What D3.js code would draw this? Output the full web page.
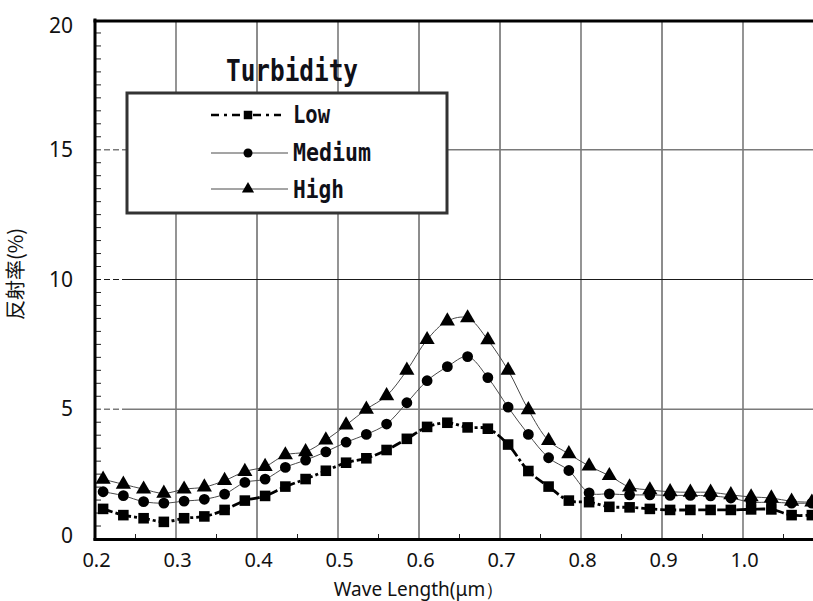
<!DOCTYPE html>
<html><head><meta charset="utf-8">
<script src="https://cdn.jsdelivr.net/npm/d3@7"></script>
<style>
html,body{margin:0;padding:0;background:#fff;}
svg{display:block;}
</style></head>
<body>
<svg id="chart" width="813" height="601"></svg>
<script>
const wavelengths = [0.210,0.235,0.260,0.285,0.310,0.335,0.360,0.385,0.410,0.435,0.460,0.485,
  0.510,0.535,0.560,0.585,0.610,0.635,0.660,0.685,0.710,0.735,0.760,0.785,
  0.810,0.835,0.860,0.885,0.910,0.935,0.960,0.985,1.010,1.035,1.060,1.085];
const lowValues = [1.16,0.92,0.80,0.66,0.80,0.87,1.12,1.48,1.66,2.02,2.31,2.63,
  2.94,3.11,3.43,3.86,4.32,4.48,4.30,4.25,3.64,2.62,2.02,1.48,
  1.42,1.24,1.22,1.16,1.12,1.12,1.12,1.12,1.14,1.14,0.92,0.92];
const mediumValues = [1.82,1.67,1.44,1.38,1.46,1.53,1.73,2.18,2.31,2.76,3.04,3.36,
  3.73,4.03,4.43,5.25,6.10,6.64,7.03,6.22,5.08,4.03,3.13,2.64,
  1.78,1.74,1.70,1.70,1.68,1.68,1.66,1.58,1.42,1.42,1.38,1.38];
const highValues = [2.30,2.11,1.92,1.76,1.92,2.00,2.25,2.60,2.79,3.24,3.36,3.81,
  4.39,5.00,5.52,6.50,7.68,8.40,8.52,7.67,6.50,4.98,3.79,3.28,
  2.81,2.44,2.00,1.89,1.82,1.80,1.80,1.70,1.62,1.58,1.45,1.42];
const seriesNames = ["Low","Medium","High"];
const xTickValues = [0.2,0.3,0.4,0.5,0.6,0.7,0.8,0.9,1.0];
const xTickLabels = ["0.2","0.3","0.4","0.5","0.6","0.7","0.8","0.9","1.0"];
const yTickValues = [0,5,10,15,20];
const yTickLabels = ["0","5","10","15","20"];
const legendTitle = "Turbidity";
const xTitle = "Wave Length(μm）";
const yTitle = "反射率(%)";

const svg = d3.select("#chart");
const W = 813, H = 601;
const x = d3.scaleLinear().domain([0.2, 1.0]).range([95, 743]);
const y = d3.scaleLinear().domain([0, 20]).range([539, 20]);
const plotRight = W;

svg.append("rect").attr("width", W).attr("height", H).attr("fill", "#fff");

// gridlines
const greyX = new Set([0.3,0.5,0.8,1.0]);
const gx = svg.append("g");
xTickValues.filter(v => v > 0.2).forEach(v => {
  const g = greyX.has(v);
  gx.append("line").attr("x1", x(v)).attr("x2", x(v)).attr("y1", y(20)).attr("y2", y(0))
    .attr("stroke", g ? "#7a7a7a" : "#1a1a1a").attr("stroke-width", g ? 1.6 : 1);
});
const greyY = new Set([5,15]);
yTickValues.filter(v => v > 0 && v < 20).forEach(v => {
  const g = greyY.has(v);
  const col = g ? "#7a7a7a" : "#1a1a1a", sw = g ? 1.6 : 1;
  gx.append("line").attr("x1", x(0.2)).attr("x2", x(0.2) + 32).attr("y1", y(v)).attr("y2", y(v))
    .attr("stroke", col).attr("stroke-width", sw).attr("stroke-dasharray", "6,3");
  gx.append("line").attr("x1", x(0.2) + 32).attr("x2", plotRight).attr("y1", y(v)).attr("y2", y(v))
    .attr("stroke", col).attr("stroke-width", sw);
});

// minor ticks
const yMinor = d3.range(0.5, 20, 0.5).filter(v => v % 5 !== 0);
svg.append("g").selectAll("line").data(yMinor).join("line")
  .attr("x1", x(0.2)).attr("x2", x(0.2) + 6).attr("y1", d => y(d)).attr("y2", d => y(d))
  .attr("stroke", "#222").attr("stroke-width", 1);
const xMinor = [0.25,0.35,0.45,0.55,0.65,0.75,0.85,0.95,1.05];
svg.append("g").selectAll("line").data(xMinor).join("line")
  .attr("x1", d => x(d)).attr("x2", d => x(d)).attr("y1", y(0)).attr("y2", y(0) - 5)
  .attr("stroke", "#222").attr("stroke-width", 1);

// legend box
const lg = svg.append("g");
lg.append("rect").attr("x", 127).attr("y", 93).attr("width", 320).attr("height", 120)
  .attr("fill", "#fff").attr("stroke", "#333").attr("stroke-width", 3);
lg.append("text").attr("x", 226).attr("y", 81).text(legendTitle)
  .attr("font-family", "DejaVu Sans Mono").attr("font-weight", "bold").attr("font-size", 31)
  .attr("textLength", 132).attr("lengthAdjust", "spacingAndGlyphs").attr("fill", "#101018");

// series
const data = [lowValues, mediumValues, highValues].map((vals, k) =>
  ({name: seriesNames[k], points: wavelengths.map((w, i) => ({w, v: vals[i]}))}));
const line = d3.line().x(d => x(d.w)).y(d => y(d.v)).curve(d3.curveCatmullRom.alpha(0.5));

const styles = {
  Low: {stroke: "#000", width: 2.8, dash: "10,3,3,3"},
  Medium: {stroke: "#4a4a4a", width: 1, dash: null},
  High: {stroke: "#4a4a4a", width: 1, dash: null}
};
const sym = {Low: d3.symbolSquare, Medium: d3.symbolCircle, High: d3.symbolTriangle};
const symSize = {Low: 112, Medium: 92, High: 100};

const lines = svg.append("g");
data.slice().reverse().forEach(s => {
  const st = styles[s.name];
  lines.append("path").attr("d", line(s.points)).attr("fill", "none")
    .attr("stroke", st.stroke).attr("stroke-width", st.width)
    .attr("stroke-dasharray", st.dash);
});
const marks = svg.append("g");
data.forEach(s => {
  marks.append("g").selectAll("path").data(s.points).join("path")
    .attr("transform", d => `translate(${x(d.w)},${y(d.v)})`)
    .attr("d", d3.symbol().type(sym[s.name]).size(symSize[s.name]))
    .attr("fill", "#000");
});

// legend entries
const rowY = [115, 153, 189];
const textY = [123, 161, 198];
const textLen = [37, 78, 51];
data.forEach((s, k) => {
  const st = styles[s.name];
  lg.append("line").attr("x1", 211).attr("x2", s.name === "Low" ? 281 : 288)
    .attr("y1", rowY[k]).attr("y2", rowY[k])
    .attr("stroke", st.stroke).attr("stroke-width", s.name === "Low" ? 2.4 : 1)
    .attr("stroke-dasharray", s.name === "Low" ? "8,5,3,5" : null);
  lg.append("path").attr("transform", `translate(248,${rowY[k]})`)
    .attr("d", d3.symbol().type(sym[s.name]).size(s.name === "Low" ? 72 : 64)).attr("fill", "#000");
  lg.append("text").attr("x", 293).attr("y", textY[k]).text(s.name)
    .attr("font-family", "DejaVu Sans Mono").attr("font-weight", "bold").attr("font-size", 24)
    .attr("textLength", textLen[k]).attr("lengthAdjust", "spacingAndGlyphs").attr("fill", "#101018");
});

// axes frame
svg.append("line").attr("x1", x(0.2)).attr("x2", x(0.2)).attr("y1", y(20) - 1.5).attr("y2", y(0) + 1.5)
  .attr("stroke", "#000").attr("stroke-width", 3);
svg.append("line").attr("x1", x(0.2) - 1.5).attr("x2", W).attr("y1", y(20) + 1).attr("y2", y(20) + 1)
  .attr("stroke", "#000").attr("stroke-width", 3);
svg.append("line").attr("x1", x(0.2) - 1.5).attr("x2", W).attr("y1", y(0) + 0.5).attr("y2", y(0) + 0.5)
  .attr("stroke", "#000").attr("stroke-width", 3);

// tick labels via d3 axes
const xAxis = d3.axisBottom(x).tickValues(xTickValues).tickSize(0)
  .tickFormat((d, i) => xTickLabels[i]);
const xa = svg.append("g").attr("transform", `translate(1,${y(0) + 11})`).call(xAxis);
xa.select(".domain").remove();
xa.selectAll("text").attr("font-family", "Noto Sans").attr("font-size", 20).attr("fill", "#111");

const yAxis = d3.axisLeft(y).tickValues(yTickValues).tickSize(0)
  .tickFormat((d, i) => yTickLabels[i]);
const ya = svg.append("g").attr("transform", `translate(76,0)`).call(yAxis);
ya.select(".domain").remove();
ya.selectAll("text").attr("font-family", "Noto Sans").attr("font-size", 21).attr("fill", "#111")
  .attr("dy", d => d === 20 ? "0.6em" : d === 0 ? "0.15em" : "0.32em");

svg.append("text").attr("x", 419).attr("y", 595.5).attr("text-anchor", "middle")
  .attr("font-family", "Noto Sans").attr("font-size", 19).attr("fill", "#111").text(xTitle);
svg.append("text").attr("transform", "translate(23,274) rotate(-90)").attr("text-anchor", "middle")
  .attr("font-family", "Noto Sans CJK JP").attr("font-size", 20).attr("fill", "#111").text(yTitle);
</script>
</body></html>
